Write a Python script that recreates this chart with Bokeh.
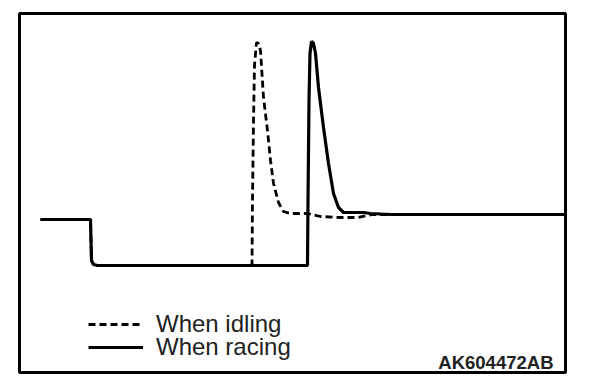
from bokeh.plotting import figure
from bokeh.models import Range1d, Legend, LegendItem, Label
from bokeh.embed import file_html
from bokeh.resources import INLINE

# time axis (arbitrary units) and signal level (arbitrary units)
racing_t = [21, 71, 71.5, 72, 74, 78, 288, 288.5, 289.5, 290.5, 292, 294, 296, 299, 304, 309,
            314, 319, 324, 344, 351, 371, 545]
racing_v = [153, 153, 132, 112, 108, 107, 107, 172, 272, 319, 331, 329, 319, 285, 245, 209,
            179, 165, 160, 160, 159, 158, 158]

idling_t = [21, 71, 71.5, 72, 74, 78, 232, 232.5, 233, 234, 235, 237, 239, 241, 244, 248, 251,
            254, 259, 264, 271, 288, 301, 321, 338, 348, 353, 545]
idling_v = [153, 153, 132, 112, 108, 107, 107, 107, 172, 252, 307, 330, 329, 322, 275, 242, 212,
            189, 170, 161, 159, 159, 156, 155, 155, 157, 158, 158]

legend_labels = ["When idling", "When racing"]
code_text = "AK604472AB"

p = figure(width=608, height=388, output_backend="svg", toolbar_location=None,
           frame_width=546, frame_height=359,
           min_border_left=19, min_border_top=13, min_border_right=43, min_border_bottom=16,
           x_range=Range1d(0, 546), y_range=Range1d(0, 359))
p.axis.visible = False
p.grid.visible = False
p.outline_line_color = "black"
p.outline_line_width = 3
p.background_fill_color = "white"
p.border_fill_color = "white"

r_idle = p.line(idling_t, idling_v, line_color="black", line_width=2.8, line_dash="7 4")
r_race = p.line(racing_t, racing_v, line_color="black", line_width=3.2)

legend_style = dict(orientation="vertical", glyph_width=55, glyph_height=20, label_standoff=13,
                    padding=0, margin=0, border_line_color=None, background_fill_alpha=0,
                    label_text_font="Liberation Sans", label_text_font_size="24px",
                    label_text_color="#222222")
for label, rend, loc in [(legend_labels[0], r_idle, (69, 34)), (legend_labels[1], r_race, (69, 11))]:
    p.add_layout(Legend(items=[LegendItem(label=label, renderers=[rend])], location=loc,
                        **legend_style), "center")

p.add_layout(Label(x=534, y=10, text=code_text, text_align="right", text_baseline="alphabetic",
                   text_font="Liberation Sans", text_font_size="18.5px", text_font_style="bold",
                   text_color="#222222"))

open("out.html", "w").write(file_html(p, INLINE))
